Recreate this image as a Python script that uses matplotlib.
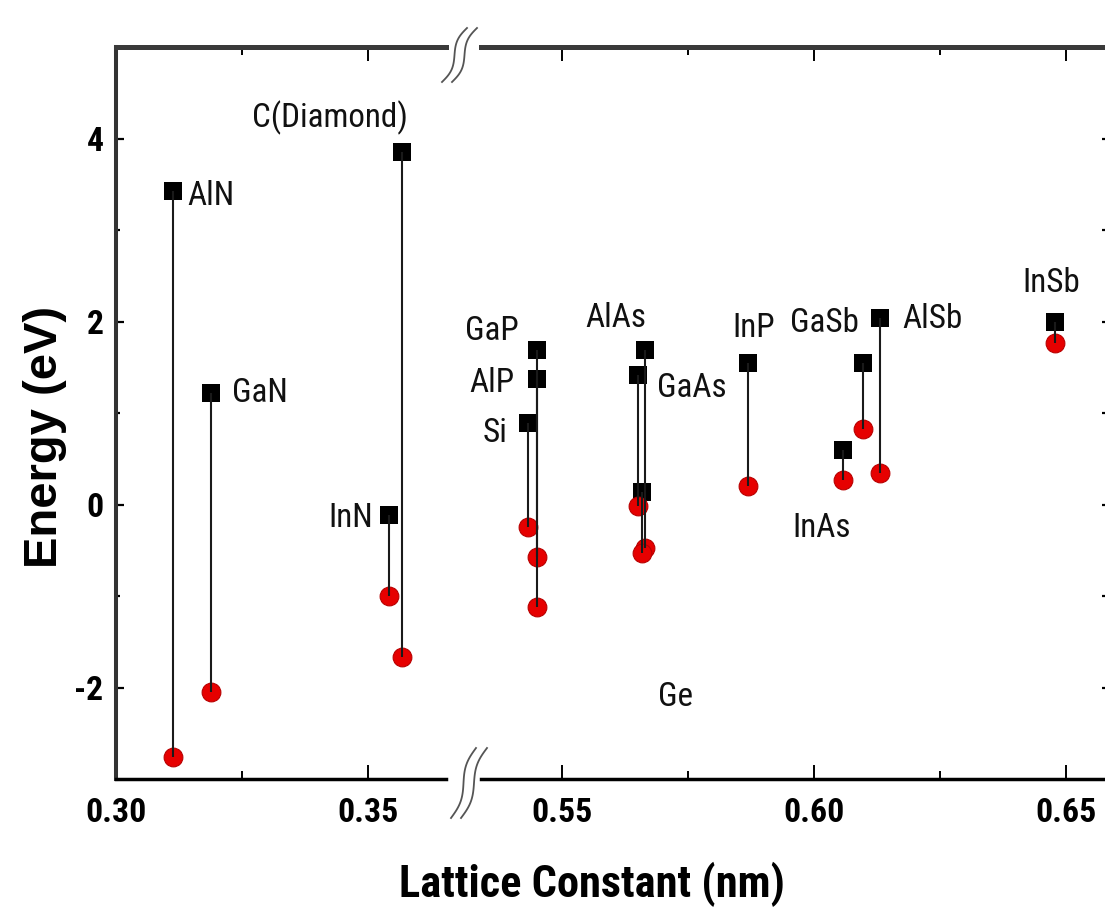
import matplotlib
matplotlib.use("Agg")
import matplotlib.pyplot as plt
from matplotlib import font_manager as fm
from matplotlib.font_manager import FontProperties
from matplotlib.lines import Line2D
from matplotlib.ticker import FixedLocator, FormatStrFormatter
import numpy as np

plt.rcParams["axes.unicode_minus"] = False

# ---------------- data ----------------
materials = ["AlN", "GaN", "InN", "C(Diamond)", "Si", "GaP", "AlP", "GaAs",
             "AlAs", "Ge", "InP", "InAs", "GaSb", "AlSb", "InSb"]
lattice_nm = [0.3113, 0.3189, 0.3542, 0.3567, 0.5433, 0.5450, 0.5451, 0.5651,
              0.5665, 0.5658, 0.5869, 0.6058, 0.6097, 0.6131, 0.6478]
cbm_eV = [3.43, 1.22, -0.11, 3.85, 0.89, 1.69, 1.37, 1.42,
          1.69, 0.14, 1.55, 0.60, 1.55, 2.04, 2.00]
vbm_eV = [-2.76, -2.05, -1.00, -1.67, -0.25, -0.57, -1.12, -0.02,
          -0.48, -0.53, 0.20, 0.27, 0.82, 0.34, 1.77]

left_major = [0.30, 0.35]
left_minor = [0.325]
right_major = [0.55, 0.60, 0.65]
right_minor = [0.575, 0.625]
y_major = [-2, 0, 2, 4]
y_minor = [-1, 1, 3]

# label anchor (data coords, left/baseline) -- layout only
label_pos = {
    "AlN": (0.3141, 3.27), "GaN": (0.3230, 1.12), "InN": (0.3421, -0.25),
    "C(Diamond)": (0.3270, 4.12), "Si": (0.5343, 0.68), "GaP": (0.5308, 1.80),
    "AlP": (0.5317, 1.23), "AlAs": (0.5546, 1.94), "GaAs": (0.5688, 1.18),
    "Ge": (0.5690, -2.20), "InP": (0.5839, 1.83), "InAs": (0.5958, -0.36),
    "GaSb": (0.5952, 1.88), "AlSb": (0.6175, 1.93), "InSb": (0.6413, 2.32),
}

# ---------------- fonts ----------------
def pick_condensed():
    entries = fm.fontManager.ttflist
    def is_cond(f):
        st = str(f.stretch).lower()
        return ("narrow" in f.name.lower() or "condensed" in f.name.lower()
                or "condensed" in st or "narrow" in st)
    prefs = ["Liberation Sans Narrow", "Arimo", "Roboto Condensed", "Roboto",
             "Open Sans Condensed", "Open Sans", "Noto Sans", "DejaVu Sans"]
    for p in prefs:
        regs = [f for f in entries if f.name == p and is_cond(f) and f.style == "normal"]
        if not regs:
            continue
        def w(f):
            ww = f.weight
            if isinstance(ww, str):
                ww = {"normal": 400, "regular": 400, "bold": 700}.get(ww, 400)
            return ww
        reg = min(regs, key=lambda f: abs(w(f) - 400))
        bold = min(regs, key=lambda f: abs(w(f) - 700))
        return FontProperties(fname=reg.fname), FontProperties(fname=bold.fname)
    return (FontProperties(family="Liberation Sans"),
            FontProperties(family="Liberation Sans", weight="bold"))

FP_REG, FP_BOLD = pick_condensed()
FP_YLAB = FontProperties(family="Liberation Sans", weight="bold")

W, H = 1105, 917
fig = plt.figure(figsize=(W / 100, H / 100), dpi=100)
renderer = fig.canvas.get_renderer()

def size_for(text, fp, target_px, rotation=0):
    t = fig.text(0, 0, text, fontproperties=fp, fontsize=20, rotation=rotation)
    bb = t.get_window_extent(renderer)
    t.remove()
    length = bb.height if rotation == 90 else bb.width
    return 20 * target_px / length

LAB_SIZE = size_for("C(Diamond)", FP_REG, 156)
TICK_SIZE = size_for("0.30", FP_BOLD, 61)
XLAB_SIZE = size_for("Lattice Constant (nm)", FP_BOLD, 385)
YLAB_SIZE = size_for("Energy (eV)", FP_YLAB, 262, rotation=90)

def fx(px):
    return px / W

def fy(py):
    return 1 - py / H

top_px, bot_px = 47, 779
axL = fig.add_axes([fx(116), fy(bot_px), fx(446) - fx(116), fy(top_px) - fy(bot_px)])
axR = fig.add_axes([fx(481), fy(bot_px), fx(1110) - fx(481), fy(top_px) - fy(bot_px)], sharey=axL)

px_per_unit = 5040.0
axL.set_xlim(0.30, 0.30 + (446 - 116) / px_per_unit)
axR.set_xlim(0.55 - (562 - 481) / px_per_unit, 0.55 + (1110 - 562) / px_per_unit)
axL.set_ylim(-3, 5)

red = "#e60000"

for ax, sel in ((axL, lambda x: x < 0.45), (axR, lambda x: x >= 0.45)):
    idx = [i for i, x in enumerate(lattice_nm) if sel(x)]
    xs = [lattice_nm[i] for i in idx]
    cb = [cbm_eV[i] for i in idx]
    vb = [vbm_eV[i] for i in idx]
    ax.scatter(xs, cb, marker="s", s=13.5 ** 2, color="black", zorder=2, linewidths=0)
    ax.scatter(xs, vb, marker="o", s=13.5 ** 2, color=red, edgecolors="#b80000",
               linewidths=0.8, zorder=3)
    ax.vlines(xs, vb, cb, colors="#1a1a1a", linewidth=1.5, zorder=4)
    for i in idx:
        name = materials[i]
        lx, ly = label_pos[name]
        ax.text(lx, ly, name, ha="left", va="baseline", fontproperties=FP_REG,
                fontsize=LAB_SIZE, color="#111111", clip_on=False, zorder=5)

# spines and ticks
for ax in (axL, axR):
    ax.spines["top"].set_linewidth(3.6)
    ax.spines["top"].set_color("#3a3a3a")
    ax.spines["bottom"].set_linewidth(2.5)
    ax.spines["bottom"].set_color("black")
    ax.tick_params(axis="x", which="major", direction="in", length=10, width=1.4,
                   top=True, bottom=True, pad=13, colors="black")
    ax.tick_params(axis="x", which="minor", direction="in", length=6, width=1.4,
                   top=True, bottom=True)
    ax.xaxis.set_major_formatter(FormatStrFormatter("%.2f"))

axL.spines["right"].set_visible(False)
axR.spines["left"].set_visible(False)
axL.spines["left"].set_linewidth(2.9)
axL.spines["left"].set_color("#333333")
axR.spines["right"].set_linewidth(2.9)
axR.spines["right"].set_color("#333333")

axL.xaxis.set_major_locator(FixedLocator(left_major))
axL.xaxis.set_minor_locator(FixedLocator(left_minor))
axR.xaxis.set_major_locator(FixedLocator(right_major))
axR.xaxis.set_minor_locator(FixedLocator(right_minor))

axL.yaxis.set_major_locator(FixedLocator(y_major))
axL.yaxis.set_minor_locator(FixedLocator(y_minor))
axL.tick_params(axis="y", which="major", direction="in", length=6, width=1.6,
                left=True, right=False, pad=9)
axL.tick_params(axis="y", which="minor", direction="in", length=3, width=1.6,
                left=True, right=False)
axR.tick_params(axis="y", which="both", direction="in", length=6, width=1.6,
                left=False, right=True, labelleft=False, labelright=False)

for ax in (axL, axR):
    for lab in ax.get_xticklabels() + ax.get_yticklabels():
        lab.set_fontproperties(FP_BOLD)
        lab.set_fontsize(TICK_SIZE)

# axis labels
fig.text(fx(592), fy(897), "Lattice Constant (nm)", ha="center", va="baseline",
         fontproperties=FP_BOLD, fontsize=XLAB_SIZE)
fig.text(fx(45), fy(437), "Energy (eV)", ha="center", va="center", rotation=90,
         fontproperties=FP_YLAB, fontsize=YLAB_SIZE)

# break marks
def squiggle(p0, p1, amp=3.5, n=40):
    t = np.linspace(0, 1, n)
    p0 = np.array(p0, float)
    p1 = np.array(p1, float)
    d = p1 - p0
    perp = np.array([-d[1], d[0]]) / np.hypot(*d)
    pts = p0[None, :] + t[:, None] * d[None, :] + (amp * np.sin(2 * np.pi * t))[:, None] * perp[None, :]
    fig.lines.append(Line2D(fx(pts[:, 0]), fy(pts[:, 1]), transform=fig.transFigure,
                            color="#555555", linewidth=1.3, clip_on=False))

squiggle((442, 82), (467, 28))
squiggle((452, 82), (477, 28))
squiggle((451, 818), (476, 748))
squiggle((461, 818), (487, 748))

fig.savefig("out.png", dpi=100, facecolor="white")
